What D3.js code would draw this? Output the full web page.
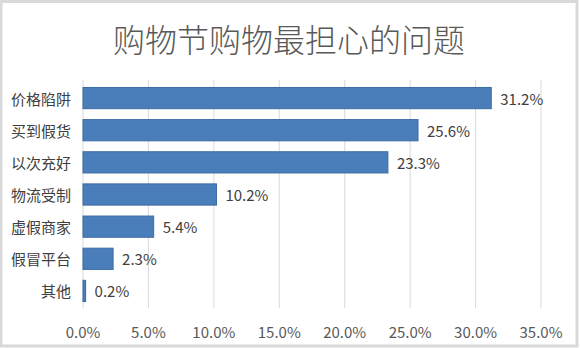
<!DOCTYPE html>
<html>
<head>
<meta charset="utf-8">
<script src="https://cdn.jsdelivr.net/npm/d3@7"></script>
<style>
  body { margin: 0; background: #fff; }
  text { font-family: "Microsoft YaHei", "Noto Sans CJK SC", "Noto Sans", sans-serif; }
</style>
</head>
<body>
<script>
const categories = ["价格陷阱", "买到假货", "以次充好", "物流受制", "虚假商家", "假冒平台", "其他"];
const values = [31.2, 25.6, 23.3, 10.2, 5.4, 2.3, 0.2];
const ticks = [0, 5, 10, 15, 20, 25, 30, 35];
const title = "购物节购物最担心的问题";

const width = 580, height = 348;

const svg = d3.select("body").append("svg")
  .attr("width", width)
  .attr("height", height);

// outer frame
svg.append("rect")
  .attr("x", 1).attr("y", 1.5)
  .attr("width", width - 4).attr("height", height - 3.5)
  .attr("fill", "#fff")
  .attr("stroke", "#d9d9d9")
  .attr("stroke-width", 3);

svg.append("text")
  .attr("x", 289).attr("y", 38)
  .attr("text-anchor", "middle")
  .attr("dominant-baseline", "central")
  .attr("font-size", 32)
  .attr("font-weight", 300)
  .attr("fill", "#595959")
  .text(title);

const x = d3.scaleLinear().domain([0, 35]).range([83, 541]);
const y = d3.scaleBand().domain(categories).range([82, 307]).paddingInner(0.34).paddingOuter(0.17);

// gridlines
svg.append("g")
  .selectAll("line")
  .data(ticks)
  .join("line")
  .attr("x1", d => x(d)).attr("x2", d => x(d))
  .attr("y1", 80).attr("y2", 308)
  .attr("stroke", "#d9d9d9")
  .attr("stroke-width", 1);

// tick labels
svg.append("g")
  .selectAll("text")
  .data(ticks)
  .join("text")
  .attr("x", d => x(d))
  .attr("y", 331)
  .attr("text-anchor", "middle")
  .attr("dominant-baseline", "central")
  .attr("font-size", 15)
  .attr("fill", "#595959")
  .text(d => d.toFixed(1) + "%");

// bars
svg.append("g")
  .selectAll("rect")
  .data(values)
  .join("rect")
  .attr("x", x(0))
  .attr("y", (d, i) => y(categories[i]))
  .attr("width", d => x(d) - x(0))
  .attr("height", y.bandwidth())
  .attr("fill", "#4a7ebb")
  .attr("stroke", "#3c6aa3")
  .attr("stroke-width", 1);

// value labels
svg.append("g")
  .selectAll("text")
  .data(values)
  .join("text")
  .attr("x", d => x(d) + 9)
  .attr("y", (d, i) => y(categories[i]) + y.bandwidth() / 2)
  .attr("dominant-baseline", "central")
  .attr("font-size", 15)
  .attr("fill", "#404040")
  .text(d => d.toFixed(1) + "%");

// category labels
svg.append("g")
  .selectAll("text")
  .data(categories)
  .join("text")
  .attr("x", 71)
  .attr("y", d => y(d) + y.bandwidth() / 2)
  .attr("text-anchor", "end")
  .attr("dominant-baseline", "central")
  .attr("font-size", 15)
  .attr("fill", "#404040")
  .text(d => d);
</script>
</body>
</html>
